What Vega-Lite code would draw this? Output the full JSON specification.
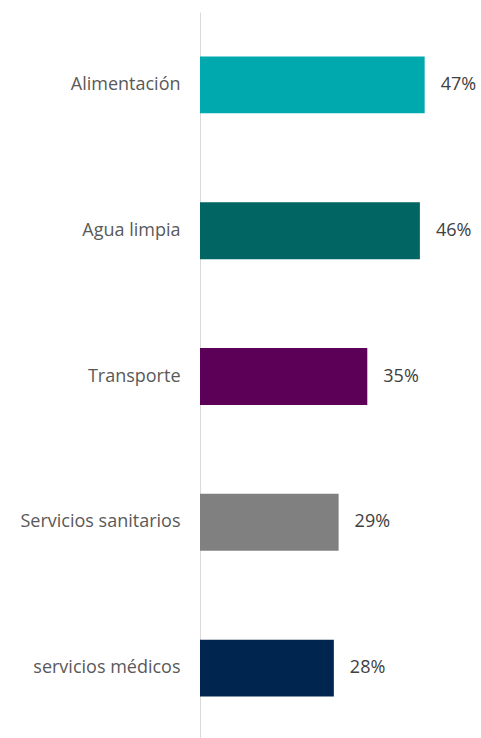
{
  "$schema": "https://vega.github.io/schema/vega-lite/v6.json",
  "width": 239,
  "height": 729,
  "autosize": {"type": "none"},
  "padding": {"top": 12, "left": 200, "right": 42, "bottom": 0},
  "background": "white",
  "config": {"view": {"stroke": null}},
  "data": {
    "values": [
      {"categoria": "Alimentación", "valor": 47, "color": "#00A9AD"},
      {"categoria": "Agua limpia", "valor": 46, "color": "#006563"},
      {"categoria": "Transporte", "valor": 35, "color": "#5C0057"},
      {"categoria": "Servicios sanitarios", "valor": 29, "color": "#808080"},
      {"categoria": "servicios médicos", "valor": 28, "color": "#00264F"}
    ]
  },
  "encoding": {
    "y": {
      "field": "categoria",
      "type": "nominal",
      "sort": null,
      "scale": {"paddingInner": 0.61, "paddingOuter": 0.305},
      "axis": {
        "title": null,
        "ticks": false,
        "labelPadding": 20,
        "labelFont": "Open Sans",
        "labelFontSize": 18,
        "labelColor": "#595959",
        "domainColor": "#D9D9D9",
        "domainWidth": 1
      }
    },
    "x": {
      "field": "valor",
      "type": "quantitative",
      "scale": {"domain": [0, 50]},
      "axis": null
    }
  },
  "layer": [
    {
      "mark": {"type": "bar"},
      "encoding": {"color": {"field": "color", "type": "nominal", "scale": null}}
    },
    {
      "mark": {"type": "text", "align": "left", "dx": 16, "font": "Open Sans", "fontSize": 18, "color": "#404040", "text": {"expr": "datum.valor + '%'"}}
    }
  ]
}
